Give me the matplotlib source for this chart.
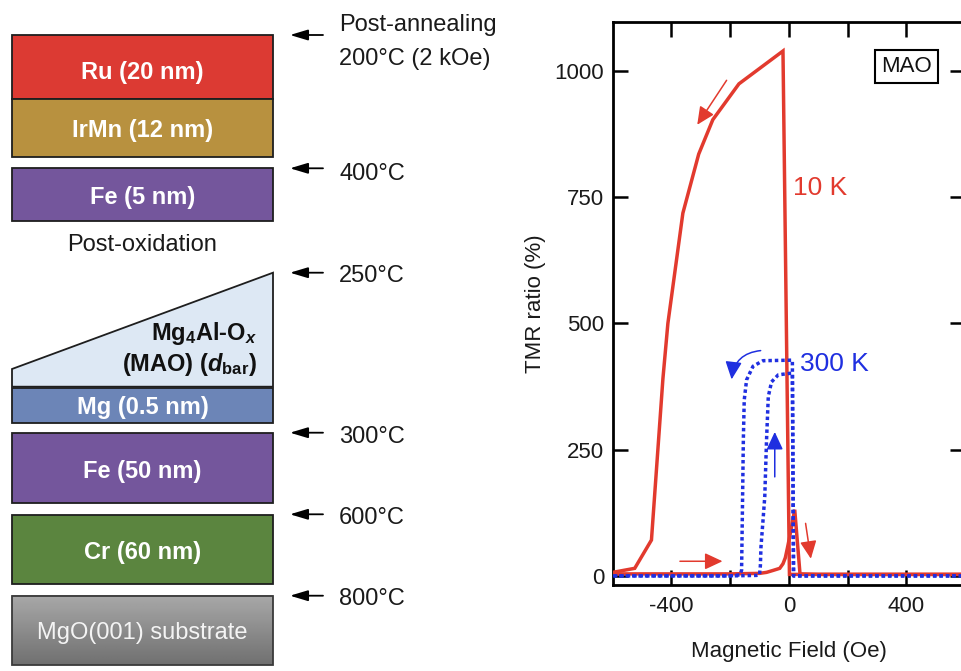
import matplotlib
matplotlib.use("Agg")
import numpy as np
import matplotlib.pyplot as plt
from matplotlib.patches import Rectangle, Polygon

plt.rcParams["font.family"] = ["Liberation Sans", "DejaVu Sans"]
plt.rcParams["mathtext.fontset"] = "custom"
plt.rcParams["mathtext.rm"] = "Liberation Sans:bold"
plt.rcParams["mathtext.it"] = "Liberation Sans:italic:bold"
plt.rcParams["mathtext.bf"] = "Liberation Sans:bold"

# ---------------- data ----------------
# film stack, top to bottom
layer_labels = ["Ru (20 nm)", "IrMn (12 nm)", "Fe (5 nm)", "Mg (0.5 nm)",
                "Fe (50 nm)", "Cr (60 nm)", "MgO(001) substrate"]
barrier_lines = ["Mg$_\\mathrm{4}$Al-O$_x$", "(MAO) ($d_\\mathrm{bar}$)"]
anneal_header = "Post-annealing"
anneal_labels = ["200°C (2 kOe)", "400°C", "250°C", "300°C", "600°C", "800°C"]
oxidation_label = "Post-oxidation"

# TMR loops at 10 K (solid) and 300 K (dotted)
h_10k_down = [600, 400, 200, 100, 40, 2, -20, -170, -259, -307, -361, -412,
              -429, -468, -525, -600]
tmr_10k_down = [3, 3, 3, 3, 3, 3, 1039, 974, 903, 835, 718, 500,
                390, 71, 15, 7]
h_10k_up = [-600, -400, -200, -100, -76, -53, -31, -20, -12, -5, 2, 9, 20,
            38, 100, 300, 600]
tmr_10k_up = [4, 4, 4, 5, 7, 11, 15, 24, 36, 55, 75, 97, 131,
              4, 3, 3, 3]

h_300k_down = [600, 300, 100, 16, 12, 9, -88, -122, -144, -152, -155, -158,
               -161, -167, -200, -400, -600]
tmr_300k_down = [0, 0, 0, 0, 427, 427, 426, 415, 388, 348, 269, 137,
                 11, 2, 0, 0, 0]
h_300k_up = [-600, -400, -200, -110, -100, -97, -95, -88, -82, -76, -70,
             -59, -36, 4, 12, 16, 100, 300, 600]
tmr_300k_up = [0, 0, 0, 1, 2, 20, 57, 110, 157, 269, 355,
               384, 398, 401, 401, 0, 0, 0, 0]

x_ticks = [-400, -200, 0, 200, 400]
x_tick_labels = ["-400", "", "0", "", "400"]
y_ticks = [0, 250, 500, 750, 1000]
y_tick_labels = ["0", "250", "500", "750", "1000"]

# ---------------- layout / style ----------------
W, H = 961, 671
stack_x0, stack_x1 = 12, 273
layer_spans = [(35, 99.3), (99.3, 156.7), (168.3, 220.7), (388.3, 422.7),
               (433.3, 503.3), (515, 584), (595.7, 665)]
layer_colors = ["#dc3a33", "#b8913f", "#74569c", "#6c85b7",
                "#74569c", "#5b853f", None]
layer_baselines = [79.3, 136.7, 204.3, 414, 478.3, 559.3, 639.3]
barrier_top_left, barrier_top_right, barrier_bottom = 369, 272.7, 386.7
arrow_rows = [35, 168.3, 272.7, 432.7, 514.3, 595.7]
anneal_baselines = [65, 180, 282, 442.7, 524.3, 605.3]
text_pt = 17
red = "#e23a2e"
blue = "#1f2fe0"

fig = plt.figure(figsize=(W / 100, H / 100), dpi=100)
fig.patch.set_facecolor("white")

# ---------- left: layer stack schematic ----------
ax0 = fig.add_axes([0, 0, 1, 1])
ax0.set_axis_off()

for (top, bot), col, lab, base in zip(layer_spans, layer_colors,
                                      layer_labels, layer_baselines):
    if col is None:
        grad = np.linspace(0.66, 0.44, 64)[:, None] * np.ones((1, 2))
        ax0.imshow(grad, extent=[stack_x0, stack_x1, bot, top], origin="upper",
                   cmap="gray", vmin=0, vmax=1, aspect="auto", zorder=1)
        ax0.add_patch(Rectangle((stack_x0, top), stack_x1 - stack_x0, bot - top,
                                fc="none", ec="#3a3a3a", lw=1.3, zorder=2))
        ax0.text((stack_x0 + stack_x1) / 2, base, lab, ha="center",
                 va="baseline", fontsize=text_pt, color="#f4f4f4", zorder=3)
    else:
        ax0.add_patch(Rectangle((stack_x0, top), stack_x1 - stack_x0, bot - top,
                                fc=col, ec="#1e1e1e", lw=1.3, zorder=2))
        ax0.text((stack_x0 + stack_x1) / 2, base, lab, ha="center",
                 va="baseline", fontsize=text_pt, color="white",
                 fontweight="bold", zorder=3)

# wedge-shaped barrier
ax0.add_patch(Polygon([(stack_x0, barrier_bottom), (stack_x0, barrier_top_left),
                       (stack_x1, barrier_top_right), (stack_x1, barrier_bottom)],
                      closed=True, fc="#dde8f4", ec="#1e1e1e", lw=1.3, zorder=2))
ax0.text(256.7, 340, barrier_lines[0], ha="right", va="baseline",
         fontsize=text_pt, fontweight="bold", color="#111111", zorder=3)
ax0.text(256.7, 371, barrier_lines[1], ha="right", va="baseline",
         fontsize=text_pt, fontweight="bold", color="#111111", zorder=3)

ax0.text((stack_x0 + stack_x1) / 2, 251, oxidation_label, ha="center",
         va="baseline", fontsize=text_pt, color="#1a1a1a")

for y in arrow_rows:
    ax0.annotate("", xy=(290, y), xytext=(323, y),
                 arrowprops=dict(arrowstyle="-|>,head_length=0.6,head_width=0.18",
                                 color="black", lw=1.3, mutation_scale=18,
                                 shrinkA=0, shrinkB=0))
ax0.text(339, 30.7, anneal_header, ha="left", va="baseline",
         fontsize=text_pt, color="#1a1a1a")
for lab, base in zip(anneal_labels, anneal_baselines):
    ax0.text(339, base, lab, ha="left", va="baseline",
             fontsize=text_pt, color="#1a1a1a")

ax0.set_xlim(0, W)
ax0.set_ylim(H, 0)

# ---------- right: TMR vs field ----------
ax = fig.add_axes([612.7 / W, 86 / H, 352.3 / W, 563.3 / H])
ax.plot(h_10k_down, tmr_10k_down, color=red, lw=2.5, zorder=3,
        solid_joinstyle="miter")
ax.plot(h_10k_up, tmr_10k_up, color=red, lw=2.5, zorder=3,
        solid_joinstyle="miter")
for hh, tt in ((h_300k_down, tmr_300k_down), (h_300k_up, tmr_300k_up)):
    ax.plot(hh, tt, color=blue, lw=2.5, ls=(0, (1.0, 0.85)),
            dash_capstyle="butt", zorder=4)

arrow_kw = dict(lw=1.1, mutation_scale=18, shrinkA=0, shrinkB=0)
head = "-|>,head_length=0.6,head_width=0.28"
ax.annotate("", xy=(-312, 893), xytext=(-212, 981),
            arrowprops=dict(arrowstyle=head, color=red, **arrow_kw))
ax.annotate("", xy=(-226, 29), xytext=(-371, 29),
            arrowprops=dict(arrowstyle=head, color=red, **arrow_kw))
ax.annotate("", xy=(75, 34), xytext=(57, 104),
            arrowprops=dict(arrowstyle=head, color=red, **arrow_kw))
ax.annotate("", xy=(-195, 389), xytext=(-96, 446),
            arrowprops=dict(arrowstyle=head, color=blue,
                            connectionstyle="arc3,rad=0.4", **arrow_kw))
ax.annotate("", xy=(-48, 285), xytext=(-48, 196),
            arrowprops=dict(arrowstyle=head, color=blue, **arrow_kw))

ax.text(13, 754, "10 K", color=red, fontsize=19, ha="left", va="baseline")
ax.text(37, 406, "300 K", color=blue, fontsize=19, ha="left", va="baseline")
ax.text(402, 1008, "MAO", fontsize=16, ha="center", va="center",
        color="#111111",
        bbox=dict(boxstyle="square,pad=0.27", fc="white", ec="black", lw=1.5))

ax.set_xlim(-600, 600)
ax.set_ylim(-18, 1097)
ax.set_xticks(x_ticks)
ax.set_xticklabels(x_tick_labels)
ax.set_yticks(y_ticks)
ax.set_yticklabels(y_tick_labels)
ax.tick_params(direction="in", length=11, width=1.8, top=True, right=True,
               labelsize=16, labelcolor="#1a1a1a")
ax.tick_params(axis="x", pad=8)
ax.tick_params(axis="y", pad=6)
for sp in ax.spines.values():
    sp.set_linewidth(2.0)
ax.set_xlabel("Magnetic Field (Oe)", fontsize=16, color="#1a1a1a")
ax.set_ylabel("TMR ratio (%)", fontsize=16, color="#1a1a1a")
ax.xaxis.set_label_coords(0.5, -0.099)
ax.yaxis.set_label_coords(-0.19, 0.5)

fig.savefig("out.png", dpi=100, facecolor="white")
